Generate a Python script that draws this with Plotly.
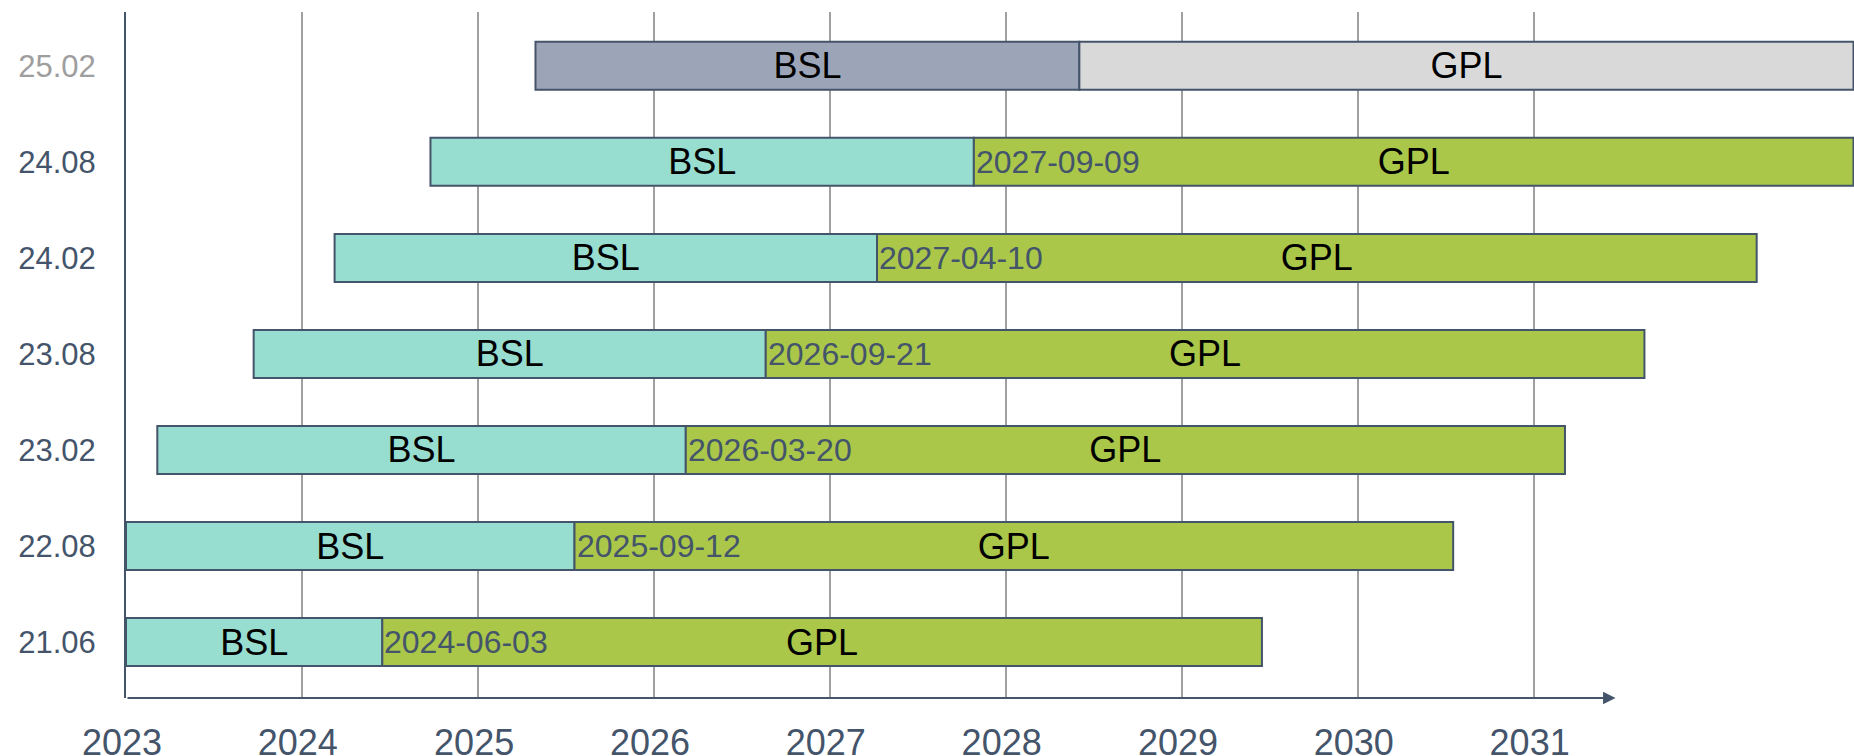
import plotly.graph_objects as go
import pandas as pd

# ---- data ----
versions = ["21.06", "22.08", "23.02", "23.08", "24.02", "24.08", "25.02"]
bsl_start = ["2023-01-01", "2023-01-01", "2023-03-07", "2023-09-23",
             "2024-03-09", "2024-09-24", "2025-04-30"]
change_date = ["2024-06-16", "2025-07-20", "2026-03-08", "2026-08-21",
               "2027-04-09", "2027-10-27", "2028-06-02"]
gpl_end = ["2029-06-16", "2030-07-18", "2031-03-07", "2031-08-19",
           "2032-04-08", "2032-10-26", "2032-10-26"]
change_labels = ["2024-06-03", "2025-09-12", "2026-03-20", "2026-09-21",
                 "2027-04-10", "2027-09-09", ""]
year_ticks = ["2023", "2024", "2025", "2026", "2027", "2028", "2029", "2030", "2031"]

# ---- styles ----
BSL_COLORS = ["#97ddd0"] * 6 + ["#9ca5b7"]
GPL_COLORS = ["#aac74a"] * 6 + ["#d9d9d9"]
LABEL_COLORS = ["#44546a"] * 6 + ["#9e9e9e"]
DARK = "#44546a"
FONT = "Liberation Sans, Arial, sans-serif"

def dur_ms(a, b):
    return [(pd.Timestamp(y) - pd.Timestamp(x)).total_seconds() * 1000 for x, y in zip(a, b)]

fig = go.Figure()
fig.add_trace(go.Bar(
    y=versions, base=bsl_start, x=dur_ms(bsl_start, change_date), orientation="h",
    width=0.5, marker=dict(color=BSL_COLORS, line=dict(color=DARK, width=2)),
    text=["BSL"] * len(versions), textposition="inside", insidetextanchor="middle",
    textfont=dict(size=36, color="black", family=FONT), constraintext="none",
    hoverinfo="skip", showlegend=False))
fig.add_trace(go.Bar(
    y=versions, base=change_date, x=dur_ms(change_date, gpl_end), orientation="h",
    width=0.5, marker=dict(color=GPL_COLORS, line=dict(color=DARK, width=2)),
    text=["GPL"] * len(versions), textposition="inside", insidetextanchor="middle",
    textfont=dict(size=36, color="black", family=FONT), constraintext="none",
    hoverinfo="skip", showlegend=False))

annotations = []
for i, (d, lab) in enumerate(zip(change_date, change_labels)):
    if lab:
        annotations.append(dict(x=d, y=i, xref="x", yref="y", text=lab, showarrow=False,
                                xanchor="left", yanchor="middle",
                                font=dict(size=32, color=DARK, family=FONT)))
# x-axis line with arrow
annotations.append(dict(x="2031-06-20", y=0, xref="x", yref="paper",
                        ax=year_ticks[0] + "-01-01", ay=0, axref="x", ayref="pixel",
                        text="", showarrow=True, arrowhead=2, arrowsize=1.25,
                        arrowwidth=2, arrowcolor=DARK, standoff=0, startstandoff=0))

ticktext_y = [f'<span style="color:{c}">{v}</span>' for v, c in zip(versions, LABEL_COLORS)]

fig.update_layout(
    width=1854, height=756,
    margin=dict(l=126, r=0, t=12, b=58, pad=0),
    paper_bgcolor="white", plot_bgcolor="white",
    barmode="overlay",
    font=dict(family=FONT, color=DARK),
    annotations=annotations,
    xaxis=dict(type="date", range=["2023-01-01", "2032-10-27"],
               tickvals=[y + "-01-01" for y in year_ticks], ticktext=year_ticks,
               tickfont=dict(size=36, color=DARK, family=FONT),
               showgrid=True, gridcolor="#a0a0a0", gridwidth=1.5,
               showline=False, zeroline=False, ticks="", ticklabelstandoff=20,
               ticklabelshift=-4, automargin=False, fixedrange=True),
    yaxis=dict(type="category", categoryorder="array", categoryarray=versions,
               range=[-0.582, 6.56], tickvals=versions, ticktext=ticktext_y,
               tickfont=dict(size=31, family=FONT),
               showgrid=False, showline=True, linecolor=DARK, linewidth=2,
               ticks="", ticklabelstandoff=22, zeroline=False, automargin=False,
               fixedrange=True),
)

fig.write_html("out.html", config={"displayModeBar": False},
               post_script="document.body.style.margin='0';document.body.style.overflow='hidden';")
